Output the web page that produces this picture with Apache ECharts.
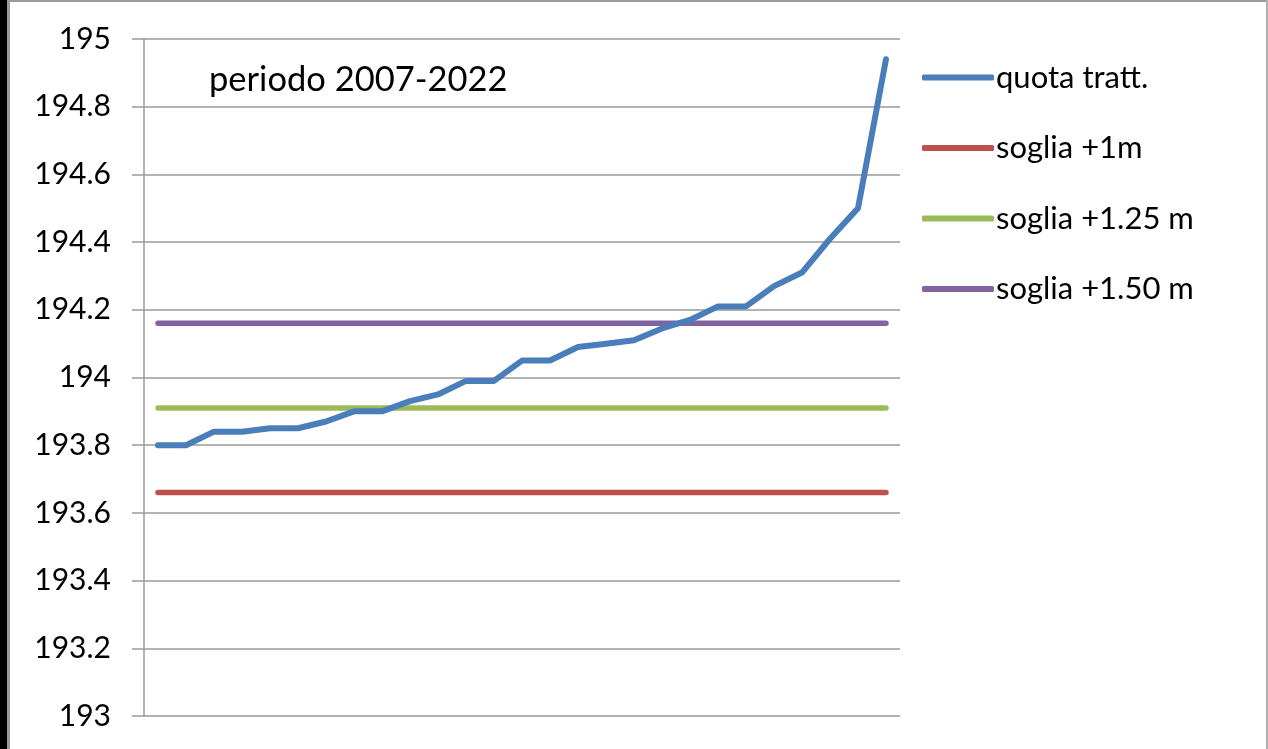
<!DOCTYPE html>
<html>
<head>
<meta charset="utf-8">
<title>quota tratt.</title>
<script src="https://cdn.jsdelivr.net/npm/echarts@6/dist/echarts.min.js"></script>
<style>
  html, body { margin: 0; padding: 0; background: #fff; }
  #chart { width: 1268px; height: 749px; }
</style>
</head>
<body>
<div id="chart"></div>
<script>
// punti della curva (etichette asse x non visibili nel grafico)
var categories = ['1', '2', '3', '4', '5', '6', '7', '8', '9', '10', '11', '12', '13', '14',
  '15', '16', '17', '18', '19', '20', '21', '22', '23', '24', '25', '26', '27'];

var quotaTratt = [193.80, 193.80, 193.84, 193.84, 193.85, 193.85, 193.87, 193.90, 193.90,
  193.93, 193.95, 193.99, 193.99, 194.05, 194.05, 194.09, 194.10, 194.11, 194.145,
  194.17, 194.21, 194.21, 194.27, 194.31, 194.41, 194.50, 194.94];

// soglie
var sogliaNames = ['soglia +1m', 'soglia +1.25 m', 'soglia +1.50 m'];
var sogliaValues = [193.66, 193.91, 194.16];
var sogliaColors = ['#c0504d', '#9bbb59', '#8064a2'];

var yTicks = ['193', '193.2', '193.4', '193.6', '193.8', '194', '194.2', '194.4', '194.6', '194.8', '195'];

var FONT = 'Lato, "Noto Sans", sans-serif';

var chart = echarts.init(document.getElementById('chart'));

var series = [{
  name: 'quota tratt.',
  type: 'line',
  data: quotaTratt,
  symbol: 'none',
  lineStyle: { color: '#4a7ebb', width: 6, cap: 'round', join: 'round' },
  itemStyle: { color: '#4a7ebb' },
  z: 5
}];

sogliaNames.forEach(function (name, i) {
  var last = categories.length - 1;
  series.push({
    name: name,
    type: 'line',
    data: [[categories[0], sogliaValues[i]], [categories[last], sogliaValues[i]]],
    symbol: 'none',
    lineStyle: { color: sogliaColors[i], width: 5.5, cap: 'round' },
    itemStyle: { color: sogliaColors[i] },
    z: 3
  });
});

var option = {
  animation: false,
  backgroundColor: '#fff',
  grid: { left: 144, right: 368, top: 39, bottom: 33 },
  title: {
    text: 'periodo 2007-2022',
    left: 204,
    top: 57,
    textStyle: { fontFamily: FONT, fontSize: 34.5, fontWeight: 'normal', color: '#000' }
  },
  legend: {
    orient: 'vertical',
    left: 917,
    top: 57,
    itemGap: 39.5,
    itemWidth: 72,
    itemHeight: 6,
    icon: 'roundRect',
    textStyle: { fontFamily: FONT, fontSize: 31, color: '#000', padding: [0, 0, 0, -3], lineHeight: 30 },
    data: ['quota tratt.'].concat(sogliaNames)
  },
  xAxis: {
    type: 'category',
    data: categories,
    boundaryGap: true,
    axisLine: { show: false },
    axisTick: { show: false },
    axisLabel: { show: false },
    splitLine: { show: false }
  },
  yAxis: {
    type: 'value',
    min: 193,
    max: 195,
    interval: 0.2,
    axisLine: { show: true, lineStyle: { color: '#9a9a9a', width: 1.5 } },
    axisTick: { show: true, inside: false, length: 12, lineStyle: { color: '#9a9a9a', width: 1.5 } },
    splitLine: { show: true, lineStyle: { color: '#9a9a9a', width: 1.5 } },
    axisLabel: {
      margin: 33,
      fontFamily: FONT,
      fontSize: 30,
      color: '#000',
      formatter: function (v) {
        var idx = Math.round((v - 193) / 0.2);
        return yTicks[idx];
      }
    }
  },
  graphic: [
    { type: 'rect', shape: { x: 0, y: 0, width: 7, height: 749 }, style: { fill: '#000' }, z: 100 },
    { type: 'rect', shape: { x: 7, y: 0, width: 3, height: 749 }, style: { fill: '#9a9a9a' }, z: 100 },
    { type: 'rect', shape: { x: 7, y: 0, width: 1261, height: 2 }, style: { fill: '#9a9a9a' }, z: 100 },
    { type: 'rect', shape: { x: 1266, y: 0, width: 2, height: 749 }, style: { fill: '#b0b0b0' }, z: 100 }
  ],
  series: series
};

chart.setOption(option);
</script>
</body>
</html>
